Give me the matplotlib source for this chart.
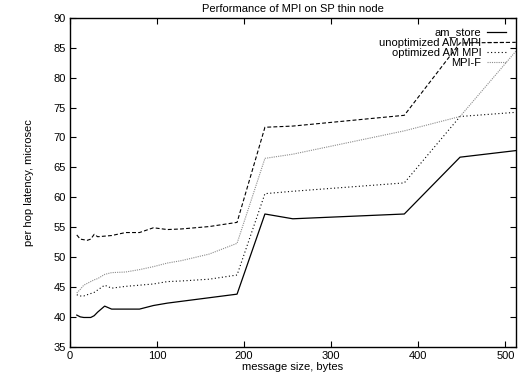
import matplotlib
matplotlib.use("Agg")
import matplotlib.pyplot as plt

plt.rcParams['font.family'] = ['Liberation Sans', 'DejaVu Sans']

# message sizes (bytes)
sizes = [8, 12, 16, 20, 24, 28, 32, 40, 48, 64, 80, 96, 112, 128, 160, 192,
         224, 256, 384, 448, 512]

am_store = [40.3, 40.0, 39.9, 39.9, 39.9, 40.2, 40.8, 41.8, 41.3, 41.3, 41.3,
            41.9, 42.3, 42.6, 43.2, 43.8, 57.2, 56.4, 57.2, 66.7, 67.8]
unopt_am_mpi = [53.7, 53.0, 52.9, 52.8, 53.0, 53.8, 53.4, 53.5, 53.6, 54.1,
                54.1, 54.9, 54.6, 54.7, 55.1, 55.8, 71.7, 71.9, 73.7, 85.8, 85.9]
opt_am_mpi = [43.7, 43.5, 43.5, 43.7, 43.9, 44.1, 44.5, 45.3, 44.8, 45.1,
              45.3, 45.5, 45.9, 46.0, 46.3, 47.0, 60.6, 61.0, 62.4, 73.5, 74.2]
mpi_f = [44.0, 44.6, 45.3, 45.6, 45.9, 46.2, 46.4, 47.1, 47.4, 47.5, 47.9,
         48.4, 49.0, 49.4, 50.5, 52.3, 66.5, 67.2, 71.1, 73.5, 84.4]

fig = plt.figure(figsize=(5.21, 3.79), dpi=100)
ax = fig.add_axes([0.134, 0.085, 0.856, 0.868])

ax.plot(sizes, am_store, color='black', lw=0.9, label='am_store')
ax.plot(sizes, unopt_am_mpi, color='black', lw=0.8, linestyle=(0, (3.5, 2)),
        label='unoptimized AM MPI')
ax.plot(sizes, opt_am_mpi, color='black', lw=0.8, linestyle=(0, (1, 2.2)),
        label='optimized AM MPI')
ax.plot(sizes, mpi_f, color='#8c8c8c', lw=0.8, linestyle=(0, (1, 1)),
        label='MPI-F')

ax.set_xlim(0, 512)
ax.set_ylim(35, 90)
ax.set_xticks([0, 100, 200, 300, 400, 500])
ax.set_yticks(range(35, 91, 5))
ax.tick_params(direction='in', top=True, right=True, length=4, width=0.8,
               labelsize=8, pad=3)
for s in ax.spines.values():
    s.set_linewidth(1.0)

ax.set_title('Performance of MPI on SP thin node', fontsize=8, pad=4)
ax.set_xlabel('message size, bytes', fontsize=8, labelpad=1)
ax.set_ylabel('per hop latency, microsec', fontsize=8, labelpad=14)

ax.legend(loc='upper right', frameon=False, markerfirst=False, fontsize=8,
          handlelength=1.7, handletextpad=0.5, labelspacing=0.0,
          borderaxespad=0.6, borderpad=0.3)

plt.savefig('out.png', dpi=100)
plt.close()
